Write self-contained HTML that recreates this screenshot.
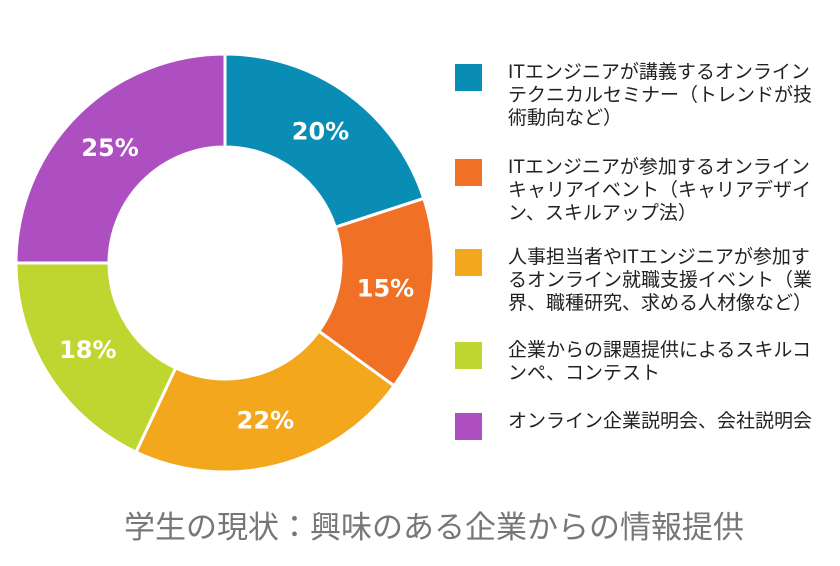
<!DOCTYPE html>
<html><head><meta charset="utf-8"><style>
body{margin:0;width:840px;height:566px;background:#fff;overflow:hidden;font-family:"Liberation Sans","Noto Sans CJK JP",sans-serif}
.leg{position:absolute;left:455px;}
.sw{position:absolute;left:0;width:27px;height:27px}
.tx{position:absolute;left:53px;width:330px;font-size:19px;line-height:23px;color:#222;white-space:nowrap}
#title{position:absolute;left:0;width:868px;top:502px;text-align:center;font-size:31px;color:#777}
</style></head><body>
<svg id="chart" width="840" height="566" style="position:absolute;left:0;top:0"></svg>
<div id="legend"></div>
<div id="title">学生の現状：興味のある企業からの情報提供</div>
<script>
const categories=["ITエンジニアが講義するオンライン<br>テクニカルセミナー（トレンドが技<br>術動向など）","ITエンジニアが参加するオンライン<br>キャリアイベント（キャリアデザイ<br>ン、スキルアップ法）","人事担当者やITエンジニアが参加す<br>るオンライン就職支援イベント（業<br>界、職種研究、求める人材像など）","企業からの課題提供によるスキルコ<br>ンペ、コンテスト","オンライン企業説明会、会社説明会"];
const values=[20,15,22,18,25];
const labels=["20%","15%","22%","18%","25%"];
const colors=["#0a8db5","#f07025","#f2a71d","#bfd630","#ad4fc0"];
const legendTops=[64,159,249,342,413];
const cx=225,cy=263,ro=209,ri=116;
const svg=document.getElementById('chart');const NS="http://www.w3.org/2000/svg";
const total=values.reduce((a,b)=>a+b,0);
function pt(r,a){return [cx+r*Math.sin(a),cy-r*Math.cos(a)];}
let acc=0;
values.forEach((v,i)=>{
 const a0=acc/total*2*Math.PI;acc+=v;const a1=acc/total*2*Math.PI;
 const big=(a1-a0)>Math.PI?1:0;
 const p1=pt(ro,a0),p2=pt(ro,a1),p3=pt(ri,a1),p4=pt(ri,a0);
 const p=document.createElementNS(NS,'path');
 p.setAttribute('d',`M${p1}A${ro},${ro} 0 ${big} 1 ${p2}L${p3}A${ri},${ri} 0 ${big} 0 ${p4}Z`);
 p.setAttribute('fill',colors[i]);p.setAttribute('stroke','#fff');p.setAttribute('stroke-width','3');
 
 
 svg.appendChild(p);
 const m=pt((ro+ri)/2,(a0+a1)/2);
 const t=document.createElementNS(NS,'text');
 t.setAttribute('x',m[0]);t.setAttribute('y',m[1]+8);t.setAttribute('text-anchor','middle');
 t.setAttribute('fill','#fff');t.setAttribute('font-size','24');t.setAttribute('font-weight','bold');
 t.setAttribute('font-family','"DejaVu Sans",sans-serif');
 t.textContent=labels[i];
 
 
 svg.appendChild(t);
});
const leg=document.getElementById('legend');
categories.forEach((c,i)=>{
 const d=document.createElement('div');d.className='leg';d.style.top=legendTops[i]+'px';
 
 
 const s=document.createElement('div');s.className='sw';s.style.background=colors[i];
 
 
 const t=document.createElement('div');t.className='tx';t.style.top='-3px';t.innerHTML=c;
 
 
 d.appendChild(s);d.appendChild(t);leg.appendChild(d);
});
</script>
</body></html>
